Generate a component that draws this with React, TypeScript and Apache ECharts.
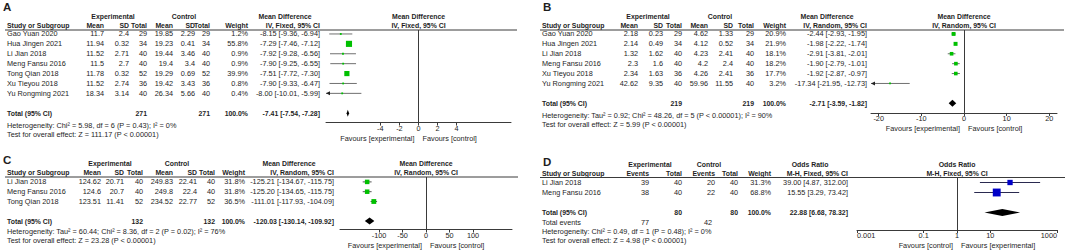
import React, { useEffect, useRef } from "react";
import * as echarts from "echarts";

const FONT = '"Liberation Sans", Arial, Helvetica, sans-serif';
const FS = 7.3;
const FSB = 6.9;
const TXT = "#1e1e1e";
const LINE = "#3a3a3a";
const GREEN = "#00c000";
const BLUE = "#0000c8";

// ---------- Panel A ----------
const studiesA = ["Gao Yuan 2020", "Hua Jingen 2021", "Li Jian 2018", "Meng Fansu 2016", "Tong Qian 2018", "Xu Tieyou 2018", "Yu Rongming 2021"];
const expMeanA = [11.7, 11.94, 11.52, 11.5, 11.78, 11.52, 18.34];
const expSdA = [2.4, 0.32, 2.71, 2.7, 0.32, 2.74, 3.14];
const expTotalA = [29, 34, 40, 40, 52, 36, 40];
const ctlMeanA = [19.85, 19.23, 19.44, 19.4, 19.29, 19.42, 26.34];
const ctlSdA = [2.29, 0.41, 3.46, 3.4, 0.69, 3.43, 5.66];
const ctlTotalA = [29, 34, 40, 40, 52, 36, 40];
const weightA = [1.2, 55.8, 0.9, 0.9, 39.9, 0.8, 0.4];
const mdA = [-8.15, -7.29, -7.92, -7.9, -7.51, -7.9, -8.0];
const loA = [-9.36, -7.46, -9.28, -9.25, -7.72, -9.33, -10.01];
const hiA = [-6.94, -7.12, -6.56, -6.55, -7.3, -6.47, -5.99];
const totalEffA = [-7.41, -7.54, -7.28];
const totalNA = [271, 271];
const hetA = "Heterogeneity: Chi² = 5.98, df = 6 (P = 0.43); I² = 0%";
const testA = "Test for overall effect: Z = 111.17 (P < 0.00001)";
const ticksA = [-4, -2, 0, 2, 4];
const tickLabelsA = ["-4", "-2", "0", "2", "4"];

// ---------- Panel B ----------
const studiesB = ["Gao Yuan 2020", "Hua Jingen 2021", "Li Jian 2018", "Meng Fansu 2016", "Xu Tieyou 2018", "Yu Rongming 2021"];
const expMeanB = [2.18, 2.14, 1.32, 2.3, 2.34, 42.62];
const expSdB = [0.23, 0.49, 1.62, 1.6, 1.63, 9.35];
const expTotalB = [29, 34, 40, 40, 36, 40];
const ctlMeanB = [4.62, 4.12, 4.23, 4.2, 4.26, 59.96];
const ctlSdB = [1.33, 0.52, 2.41, 2.4, 2.41, 11.55];
const ctlTotalB = [29, 34, 40, 40, 36, 40];
const weightB = [20.9, 21.9, 18.1, 18.2, 17.7, 3.2];
const mdB = [-2.44, -1.98, -2.91, -1.9, -1.92, -17.34];
const loB = [-2.93, -2.22, -3.81, -2.79, -2.87, -21.95];
const hiB = [-1.95, -1.74, -2.01, -1.01, -0.97, -12.73];
const totalEffB = [-2.71, -3.59, -1.82];
const totalNB = [219, 219];
const hetB = "Heterogeneity: Tau² = 0.92; Chi² = 48.26, df = 5 (P < 0.00001); I² = 90%";
const testB = "Test for overall effect: Z = 5.99 (P < 0.00001)";
const ticksB = [-20, -10, 0, 10, 20];
const tickLabelsB = ["-20", "-10", "0", "10", "20"];

// ---------- Panel C ----------
const studiesC = ["Li Jian 2018", "Meng Fansu 2016", "Tong Qian 2018"];
const expMeanC = [124.62, 124.6, 123.51];
const expSdC = [20.71, 20.7, 11.41];
const expTotalC = [40, 40, 52];
const ctlMeanC = [249.83, 249.8, 234.52];
const ctlSdC = [22.41, 22.4, 22.77];
const ctlTotalC = [40, 40, 52];
const weightC = [31.8, 31.8, 36.5];
const mdC = [-125.21, -125.2, -111.01];
const loC = [-134.67, -134.65, -117.93];
const hiC = [-115.75, -115.75, -104.09];
const totalEffC = [-120.03, -130.14, -109.92];
const totalNC = [132, 132];
const hetC = "Heterogeneity: Tau² = 60.44; Chi² = 8.36, df = 2 (P = 0.02); I² = 76%";
const testC = "Test for overall effect: Z = 23.28 (P < 0.00001)";
const ticksC = [-100, -50, 0, 50, 100];
const tickLabelsC = ["-100", "-50", "0", "50", "100"];

// ---------- Panel D ----------
const studiesD = ["Li Jian 2018", "Meng Fansu 2016"];
const expEventsD = [39, 38];
const expTotalD = [40, 40];
const ctlEventsD = [20, 22];
const ctlTotalD = [40, 40];
const weightD = [31.3, 68.8];
const orD = [39.0, 15.55];
const loD = [4.87, 3.29];
const hiD = [312.0, 73.42];
const totalEffD = [22.88, 6.68, 78.32];
const totalND = [80, 80];
const totalEventsD = [77, 42];
const hetD = "Heterogeneity: Chi² = 0.49, df = 1 (P = 0.48); I² = 0%";
const testD = "Test for overall effect: Z = 4.98 (P < 0.00001)";
const ticksD = [0.001, 0.1, 1, 10, 1000];
const tickLabelsD = ["0.001", "0.1", "1", "10", "1000"];

const pct = (v: number) => v.toFixed(1) + "%";
const ci = (m: number, l: number, h: number) => `${m.toFixed(2)} [${l.toFixed(2)}, ${h.toFixed(2)}]`;

type Col = { head: string; x: number; vals: string[]; total: string };
type Panel = {
  letter: string; letterX: number; letterY: number;
  h1Y: number; h2Y: number; top: number; lineX0: number; lineX1: number;
  rowH: number; rowMin: number; rowMax: number; totalRow: number;
  studyX: number; studies: string[]; cols: Col[];
  groups: [string, number][]; plotHead: [string, string];
  extraRows: { row: number; items: [string, number, string][] }[];
  foot: [string, number][];
  plotX0: number; plotX1: number; xMin: number; xMax: number; log: boolean; zero: number;
  ticks: number[]; tickLabels: string[]; edgeAlign: boolean; favours: [string, string]; favY: number;
  color: string; ciColor: string; k: number;
  md: number[]; lo: number[]; hi: number[]; w: number[]; tot: number[];
};

const panels: Panel[] = [
  {
    letter: "A", letterX: 3, letterY: 7, h1Y: 16, h2Y: 25, top: 30, lineX0: 5, lineX1: 517,
    rowH: 9.9, rowMin: -0.4, rowMax: 8.95, totalRow: 8, studyX: 7, studies: studiesA,
    cols: [
      { head: "Mean", x: 104, vals: expMeanA.map(String), total: "" },
      { head: "SD", x: 129, vals: expSdA.map(String), total: "" },
      { head: "Total", x: 147, vals: expTotalA.map(String), total: String(totalNA[0]) },
      { head: "Mean", x: 173, vals: ctlMeanA.map(String), total: "" },
      { head: "SD", x: 195, vals: ctlSdA.map(String), total: "" },
      { head: "Total", x: 210, vals: ctlTotalA.map(String), total: String(totalNA[1]) },
      { head: "Weight", x: 248, vals: weightA.map(pct), total: "100.0%" },
      { head: "IV, Fixed, 95% CI", x: 320, vals: mdA.map((m, i) => ci(m, loA[i], hiA[i])), total: ci(totalEffA[0], totalEffA[1], totalEffA[2]) },
    ],
    groups: [["Experimental", 113], ["Control", 184], ["Mean Difference", 285]],
    plotHead: ["Mean Difference", "IV, Fixed, 95% CI"],
    extraRows: [],
    foot: [[hetA, 125], [testA, 134.5]],
    plotX0: 326, plotX1: 511, xMin: -9.7, xMax: 9.7, log: false, zero: 0,
    ticks: ticksA, tickLabels: tickLabelsA, edgeAlign: false, favours: ["Favours [experimental]", "Favours [control]"], favY: 138.5,
    color: GREEN, ciColor: "#707070", k: 0.82,
    md: mdA, lo: loA, hi: hiA, w: weightA, tot: totalEffA,
  },
  {
    letter: "B", letterX: 543, letterY: 7, h1Y: 16, h2Y: 25, top: 30, lineX0: 540, lineX1: 1064,
    rowH: 9.9, rowMin: -0.4, rowMax: 7.98, totalRow: 7, studyX: 542, studies: studiesB,
    cols: [
      { head: "Mean", x: 638, vals: expMeanB.map(String), total: "" },
      { head: "SD", x: 663, vals: expSdB.map(String), total: "" },
      { head: "Total", x: 682, vals: expTotalB.map(String), total: String(totalNB[0]) },
      { head: "Mean", x: 708, vals: ctlMeanB.map(String), total: "" },
      { head: "SD", x: 733, vals: ctlSdB.map(String), total: "" },
      { head: "Total", x: 754, vals: ctlTotalB.map(String), total: String(totalNB[1]) },
      { head: "Weight", x: 786, vals: weightB.map(pct), total: "100.0%" },
      { head: "IV, Random, 95% CI", x: 867, vals: mdB.map((m, i) => ci(m, loB[i], hiB[i])), total: ci(totalEffB[0], totalEffB[1], totalEffB[2]) },
    ],
    groups: [["Experimental", 648], ["Control", 720], ["Mean Difference", 827]],
    plotHead: ["Mean Difference", "IV, Random, 95% CI"],
    extraRows: [],
    foot: [[hetB, 115], [testB, 124.5]],
    plotX0: 871, plotX1: 1057, xMin: -21.8, xMax: 21.8, log: false, zero: 0,
    ticks: ticksB, tickLabels: tickLabelsB, edgeAlign: false, favours: ["Favours [experimental]", "Favours [control]"], favY: 128,
    color: GREEN, ciColor: "#707070", k: 0.85,
    md: mdB, lo: loB, hi: hiB, w: weightB, tot: totalEffB,
  },
  {
    letter: "C", letterX: 3, letterY: 160, h1Y: 163.5, h2Y: 172.5, top: 177, lineX0: 5, lineX1: 518,
    rowH: 9.8, rowMin: -0.5, rowMax: 4.86, totalRow: 4, studyX: 7, studies: studiesC,
    cols: [
      { head: "Mean", x: 101, vals: expMeanC.map(String), total: "" },
      { head: "SD", x: 124, vals: expSdC.map(String), total: "" },
      { head: "Total", x: 143, vals: expTotalC.map(String), total: String(totalNC[0]) },
      { head: "Mean", x: 173, vals: ctlMeanC.map(String), total: "" },
      { head: "SD", x: 197, vals: ctlSdC.map(String), total: "" },
      { head: "Total", x: 215, vals: ctlTotalC.map(String), total: String(totalNC[1]) },
      { head: "Weight", x: 245, vals: weightC.map(pct), total: "100.0%" },
      { head: "IV, Random, 95% CI", x: 334, vals: mdC.map((m, i) => ci(m, loC[i], hiC[i])), total: ci(totalEffC[0], totalEffC[1], totalEffC[2]) },
    ],
    groups: [["Experimental", 110], ["Control", 177], ["Mean Difference", 289]],
    plotHead: ["Mean Difference", "IV, Random, 95% CI"],
    extraRows: [],
    foot: [[hetC, 231.5], [testC, 240.5]],
    plotX0: 340, plotX1: 512, xMin: -183, xMax: 183, log: false, zero: 0,
    ticks: ticksC, tickLabels: tickLabelsC, edgeAlign: false, favours: ["Favours [experimental]", "Favours [control]"], favY: 245.5,
    color: GREEN, ciColor: "#555555", k: 0.8,
    md: mdC, lo: loC, hi: hiC, w: weightC, tot: totalEffC,
  },
  {
    letter: "D", letterX: 543, letterY: 161.5, h1Y: 164.5, h2Y: 173.5, top: 177.5, lineX0: 540, lineX1: 1065,
    rowH: 10, rowMin: -0.5, rowMax: 4.75, totalRow: 3, studyX: 542, studies: studiesD,
    cols: [
      { head: "Events", x: 649, vals: expEventsD.map(String), total: "" },
      { head: "Total", x: 682, vals: expTotalD.map(String), total: String(totalND[0]) },
      { head: "Events", x: 715, vals: ctlEventsD.map(String), total: "" },
      { head: "Total", x: 738, vals: ctlTotalD.map(String), total: String(totalND[1]) },
      { head: "Weight", x: 771, vals: weightD.map(pct), total: "100.0%" },
      { head: "M-H, Fixed, 95% CI", x: 848, vals: orD.map((m, i) => ci(m, loD[i], hiD[i])), total: ci(totalEffD[0], totalEffD[1], totalEffD[2]) },
    ],
    groups: [["Experimental", 650], ["Control", 709], ["Odds Ratio", 810]],
    plotHead: ["Odds Ratio", "M-H, Fixed, 95% CI"],
    extraRows: [{ row: 4, items: [["Total events", 542, "left"], [String(totalEventsD[0]), 649, "right"], [String(totalEventsD[1]), 712, "right"]] }],
    foot: [[hetD, 231.5], [testD, 240.5]],
    plotX0: 857, plotX1: 1057, xMin: 0.001, xMax: 1000, log: true, zero: 1,
    ticks: ticksD, tickLabels: tickLabelsD, edgeAlign: true, favours: ["Favours [control]", "Favours [experimental]"], favY: 245.5,
    color: BLUE, ciColor: "#2a2a50", k: 0.95,
    md: orD, lo: loD, hi: hiD, w: weightD, tot: totalEffD,
  },
];

const txt = (text: string, x: number, y: number, align: string = "left", bold = false, size = FS) => ({
  type: "text",
  x,
  y,
  silent: true,
  style: {
    text,
    fill: TXT,
    fontSize: size,
    fontWeight: bold ? "bold" : "normal",
    fontFamily: FONT,
    align,
    verticalAlign: "middle",
  },
});

function buildOption() {
  const graphics: any[] = [];
  const grids: any[] = [];
  const xAxes: any[] = [];
  const yAxes: any[] = [];
  const series: any[] = [];

  panels.forEach((p, pi) => {
    const rowY = (r: number) => p.top + (r - p.rowMin) * p.rowH;
    const height = (p.rowMax - p.rowMin) * p.rowH;
    const zeroX = p.log
      ? p.plotX0 + ((Math.log10(p.zero) - Math.log10(p.xMin)) / (Math.log10(p.xMax) - Math.log10(p.xMin))) * (p.plotX1 - p.plotX0)
      : p.plotX0 + ((p.zero - p.xMin) / (p.xMax - p.xMin)) * (p.plotX1 - p.plotX0);

    graphics.push(txt(p.letter, p.letterX, p.letterY, "left", true, 11.5));
    p.groups.forEach(([t, cx]) => graphics.push(txt(t, cx, p.h1Y, "center", true, FSB)));
    graphics.push(txt("Study or Subgroup", p.studyX, p.h2Y, "left", true, FSB));
    p.cols.forEach((c) => graphics.push(txt(c.head, c.x, p.h2Y, "right", true, FSB)));
    graphics.push(txt(p.plotHead[0], zeroX, p.h1Y, "center", true, FSB));
    graphics.push(txt(p.plotHead[1], zeroX, p.h2Y, "center", true, FSB));
    graphics.push({
      type: "line",
      silent: true,
      shape: { x1: p.lineX0, y1: p.top, x2: p.lineX1, y2: p.top },
      style: { stroke: LINE, lineWidth: 1 },
    });
    p.studies.forEach((s, i) => {
      const y = rowY(i);
      graphics.push(txt(s, p.studyX, y));
      p.cols.forEach((c) => graphics.push(txt(c.vals[i], c.x, y, "right")));
    });
    const ty = rowY(p.totalRow);
    graphics.push(txt("Total (95% CI)", p.studyX, ty, "left", true, FSB));
    p.cols.forEach((c) => {
      if (c.total) graphics.push(txt(c.total, c.x, ty, "right", true, FSB));
    });
    p.extraRows.forEach((er) => {
      er.items.forEach(([t, x, al]) => graphics.push(txt(t, x, rowY(er.row), al)));
    });
    p.foot.forEach(([t, y]) => graphics.push(txt(t, p.studyX, y)));
    graphics.push(txt(p.favours[0], zeroX - 4, p.favY, "right"));
    graphics.push(txt(p.favours[1], zeroX + 4, p.favY, "left"));

    grids.push({ left: p.plotX0, top: p.top, width: p.plotX1 - p.plotX0, height, containLabel: false });
    const ticks = p.ticks;
    const labels = p.tickLabels;
    const axisLabel: any = {
      show: true,
      customValues: ticks,
      margin: 2,
      fontSize: FS,
      fontFamily: FONT,
      color: TXT,
      formatter: (v: number) => {
        let best = 0;
        ticks.forEach((t, j) => {
          if (Math.abs(t - v) < Math.abs(ticks[best] - v)) best = j;
        });
        return labels[best];
      },
    };
    if (p.edgeAlign) {
      axisLabel.alignMinLabel = "left";
      axisLabel.alignMaxLabel = "right";
    }
    xAxes.push({
      gridIndex: pi,
      type: p.log ? "log" : "value",
      logBase: 10,
      min: p.xMin,
      max: p.xMax,
      position: "bottom",
      axisLine: { show: true, onZero: false, lineStyle: { color: LINE, width: 1 } },
      axisTick: { show: true, length: 3, customValues: ticks, lineStyle: { color: LINE, width: 1 } },
      axisLabel,
      splitLine: { show: false },
    });
    yAxes.push({ gridIndex: pi, type: "value", inverse: true, min: p.rowMin, max: p.rowMax, show: false });

    const color = p.color;
    const ciColor = p.ciColor;
    const k = p.k;
    const xMin = p.xMin;
    const xMax = p.xMax;
    series.push({
      type: "custom",
      xAxisIndex: pi,
      yAxisIndex: pi,
      silent: true,
      data: p.md.map((m, i) => [m, p.lo[i], p.hi[i], p.w[i], i]),
      encode: { x: [0, 1, 2], y: 4 },
      renderItem: (params: any, api: any) => {
        const md = api.value(0);
        const lo = api.value(1);
        const hi = api.value(2);
        const w = api.value(3);
        const row = api.value(4);
        const pm = api.coord([md, row]);
        const y = pm[1];
        const xl = api.coord([Math.max(lo, xMin), row])[0];
        const xr = api.coord([Math.min(hi, xMax), row])[0];
        const s = Math.max(1.8, k * Math.sqrt(w));
        const children: any[] = [
          { type: "line", shape: { x1: xl, y1: y, x2: xr, y2: y }, style: { stroke: ciColor, lineWidth: 1 } },
          { type: "rect", shape: { x: pm[0] - s / 2, y: y - s / 2, width: s, height: s }, style: { fill: color } },
        ];
        if (lo < xMin)
          children.push({ type: "polygon", shape: { points: [[xl, y], [xl + 4, y - 2], [xl + 4, y + 2]] }, style: { fill: "#222" } });
        if (hi > xMax)
          children.push({ type: "polygon", shape: { points: [[xr, y], [xr - 4, y - 2], [xr - 4, y + 2]] }, style: { fill: "#222" } });
        return { type: "group", children };
      },
      markLine: {
        silent: true,
        symbol: ["none", "none"],
        label: { show: false },
        lineStyle: { color: LINE, width: 1, type: "solid" },
        data: [{ xAxis: p.zero }],
      },
      z: 3,
    });
    series.push({
      type: "custom",
      xAxisIndex: pi,
      yAxisIndex: pi,
      silent: true,
      data: [[p.tot[0], p.tot[1], p.tot[2], p.totalRow]],
      encode: { x: [0, 1, 2], y: 3 },
      renderItem: (params: any, api: any) => {
        const row = api.value(3);
        const pm = api.coord([api.value(0), row]);
        const xl = api.coord([api.value(1), row])[0];
        const xr = api.coord([api.value(2), row])[0];
        const h = 3.5;
        return {
          type: "polygon",
          shape: { points: [[xl, pm[1]], [pm[0], pm[1] - h], [xr, pm[1]], [pm[0], pm[1] + h]] },
          style: { fill: "#000" },
        };
      },
      z: 4,
    });
  });

  return {
    animation: false,
    backgroundColor: "#ffffff",
    grid: grids,
    xAxis: xAxes,
    yAxis: yAxes,
    series,
    graphic: graphics,
  };
}

export default function App() {
  const ref = useRef<HTMLDivElement>(null);
  useEffect(() => {
    if (!ref.current) return;
    const chart = echarts.init(ref.current, null, { renderer: "svg" });
    chart.setOption(buildOption() as any);
    return () => chart.dispose();
  }, []);
  return (
    <div
      ref={ref}
      style={{ position: "fixed", left: 0, top: 0, width: 1065, height: 252, background: "#fff" }}
    />
  );
}
